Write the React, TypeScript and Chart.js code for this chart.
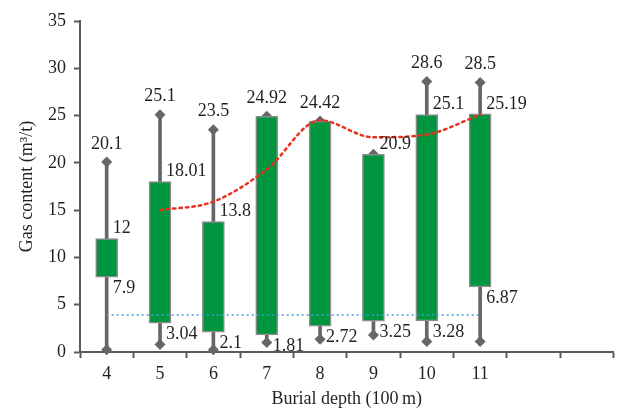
import React, { useEffect, useRef } from "react";
import { Chart, registerables } from "chart.js";

Chart.register(...registerables);

const categories = ["4", "5", "6", "7", "8", "9", "10", "11", "", ""];
const minValues = [0.25, 0.8, 0.25, 1.0, 1.35, 1.8, 1.1, 1.1];
const q1Values = [7.9, 3.04, 2.1, 1.81, 2.72, 3.25, 3.28, 6.87];
const q3Values = [12, 18.01, 13.8, 24.92, 24.42, 20.9, 25.1, 25.19];
const maxValues = [20.1, 25.1, 23.5, 24.92, 24.42, 20.9, 28.6, 28.5];
const meanLine = [null, 15.0, 15.9, 19.3, 24.5, 22.7, 23.0, 25.1, null, null];
const baseLine = [3.9, 3.9, 3.9, 3.9, 3.9, 3.9, 3.9, 3.9, null, null];
const topLabels = ["20.1", "25.1", "23.5", "24.92", "24.42", "", "28.6", "28.5"];
const q3Labels = ["12", "18.01", "13.8", "", "", "20.9", "25.1", "25.19"];
const q1Labels = ["7.9", "3.04", "2.1", "1.81", "2.72", "3.25", "3.28", "6.87"];
const yTicks = [0, 5, 10, 15, 20, 25, 30, 35];

const FONT = "'Liberation Serif', 'Times New Roman', serif";
const TEXT = "#231f20";
const AXIS = "#5a5a5a";

const labelPlugin = {
  id: "valueLabels",
  afterDatasetsDraw(chart: any) {
    const { ctx, scales } = chart;
    const x = scales.x;
    const y = scales.y;
    ctx.save();
    ctx.font = `18px ${FONT}`;
    ctx.fillStyle = TEXT;
    ctx.textBaseline = "middle";
    for (let i = 0; i < q1Values.length; i++) {
      const cx = x.getPixelForValue(i);
      if (topLabels[i]) {
        ctx.textAlign = "center";
        ctx.fillText(topLabels[i], cx, y.getPixelForValue(maxValues[i]) - 18);
      }
      ctx.textAlign = "left";
      if (q3Labels[i]) {
        ctx.fillText(q3Labels[i], cx + 6, y.getPixelForValue(q3Values[i]) - 10);
      }
      if (q1Labels[i]) {
        ctx.fillText(q1Labels[i], cx + 6, y.getPixelForValue(q1Values[i]) + 11);
      }
    }
    ctx.restore();
  },
};

export default function App() {
  const ref = useRef<HTMLCanvasElement>(null);
  useEffect(() => {
    const boxes = q1Values.map((q1, i) => [q1, q3Values[i]]);
    const whiskers = minValues.map((mn, i) => [mn, maxValues[i]]);
    const chart = new Chart(ref.current!, {
      type: "bar",
      data: {
        labels: categories,
        datasets: [
          {
            type: "line",
            label: "mean",
            data: meanLine as any,
            borderColor: "#e8321e",
            borderWidth: 2.5,
            borderDash: [2.5, 4],
            borderCapStyle: "round",
            pointRadius: 0,
            cubicInterpolationMode: "monotone",
            fill: false,
            order: 0,
          } as any,
          {
            type: "line",
            label: "base",
            data: baseLine as any,
            borderColor: "#4a9fd8",
            borderWidth: 1.5,
            borderDash: [2, 3],
            pointRadius: 0,
            fill: false,
            order: 1,
          } as any,
          {
            type: "line",
            label: "max",
            data: maxValues as any,
            showLine: false,
            pointStyle: "rectRot",
            pointRadius: 5.5,
            pointBackgroundColor: "#666666",
            pointBorderColor: "#666666",
            pointBorderWidth: 0,
            clip: false,
            order: 3,
          } as any,
          {
            type: "line",
            label: "min",
            data: minValues as any,
            showLine: false,
            pointStyle: "rectRot",
            pointRadius: 5.5,
            pointBackgroundColor: "#666666",
            pointBorderColor: "#666666",
            pointBorderWidth: 0,
            clip: false,
            order: 3,
          } as any,
          {
            label: "box",
            data: boxes as any,
            backgroundColor: "#00963f",
            borderColor: "#8d8d8d",
            borderWidth: 1.5,
            borderSkipped: false,
            barThickness: 22,
            grouped: false,
            order: 2,
          } as any,
          {
            label: "whisker",
            data: whiskers as any,
            backgroundColor: "#666666",
            borderWidth: 0,
            barThickness: 3,
            grouped: false,
            order: 4,
          } as any,
        ],
      },
      options: {
        responsive: false,
        animation: false,
        events: [],
        layout: { padding: { top: 21, right: 5, left: 0, bottom: 0 } },
        plugins: { legend: { display: false }, tooltip: { enabled: false } },
        scales: {
          x: {
            offset: true,
            grid: {
              offset: true,
              drawOnChartArea: false,
              drawTicks: true,
              tickLength: 6,
              tickWidth: 2,
              tickColor: AXIS,
            },
            border: { color: AXIS, width: 2 },
            ticks: { color: TEXT, font: { family: FONT, size: 18 }, padding: 5, maxRotation: 0, autoSkip: false },
            title: {
              display: true,
              text: "Burial depth (100\u2009m)",
              color: TEXT,
              font: { family: FONT, size: 18 },
              padding: { top: 0, bottom: -1 },
            },
            afterFit(scale: any) {
              scale.height = 57;
            },
          },
          y: {
            min: 0,
            max: 35,
            afterBuildTicks(scale: any) {
              scale.ticks = yTicks.map((v) => ({ value: v }));
            },
            grid: {
              drawOnChartArea: false,
              drawTicks: true,
              tickLength: 6,
              tickWidth: 2,
              tickColor: AXIS,
            },
            border: { color: AXIS, width: 2 },
            ticks: { color: TEXT, font: { family: FONT, size: 18 }, padding: 8 },
            title: {
              display: true,
              text: "Gas content (m\u00b3/t)",
              color: TEXT,
              font: { family: FONT, size: 18 },
              padding: { top: 16, bottom: 0 },
            },
            afterFit(scale: any) {
              scale.width = 80;
            },
          },
        },
      },
      plugins: [labelPlugin],
    });
    return () => chart.destroy();
  }, []);
  return (
    <div style={{ position: "fixed", left: 0, top: 0, width: 619, height: 409, background: "#fff" }}>
      <canvas ref={ref} width={619} height={409} />
    </div>
  );
}
